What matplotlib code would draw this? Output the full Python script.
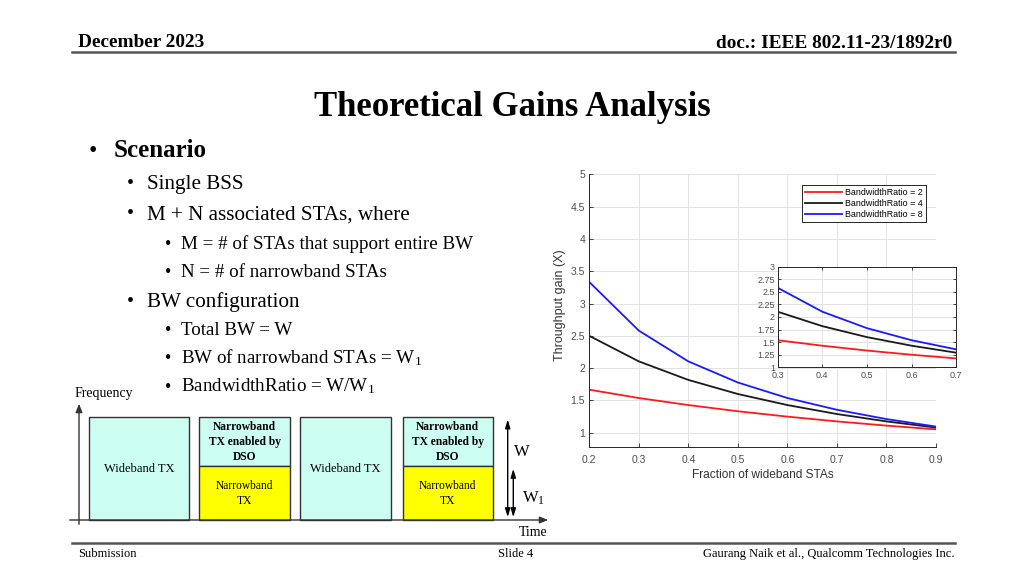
import matplotlib
matplotlib.use("Agg")
import matplotlib.pyplot as plt
from matplotlib.patches import Rectangle
from matplotlib.ticker import FormatStrFormatter

# ---------------- data ----------------
fraction = [0.2, 0.3, 0.4, 0.5, 0.6, 0.7, 0.8, 0.9]
ratio2 = [1.667, 1.538, 1.429, 1.333, 1.250, 1.176, 1.111, 1.053]
ratio4 = [2.500, 2.105, 1.818, 1.600, 1.429, 1.290, 1.176, 1.081]
ratio8 = [3.333, 2.581, 2.105, 1.778, 1.538, 1.356, 1.212, 1.096]
series_labels = ["BandwidthRatio = 2", "BandwidthRatio = 4", "BandwidthRatio = 8"]
series_colors = ["#ff1a1a", "#1a1a1a", "#1a1aff"]
main_xticks = [0.2, 0.3, 0.4, 0.5, 0.6, 0.7, 0.8, 0.9]
main_yticks = [1, 1.5, 2, 2.5, 3, 3.5, 4, 4.5, 5]
inset_xticks = [0.3, 0.4, 0.5, 0.6, 0.7]
inset_yticks = [1, 1.25, 1.5, 1.75, 2, 2.25, 2.5, 2.75, 3]

bullets = [
    (0, "Scenario"),
    (1, "Single BSS"),
    (1, "M + N associated STAs, where"),
    (2, "M = # of STAs that support entire BW"),
    (2, "N = # of narrowband STAs"),
    (1, "BW configuration"),
    (2, "Total BW = W"),
    (2, "BW of narrowband STAs = W$_1$"),
    (2, "BandwidthRatio = W/W$_1$"),
]

plt.rcParams['font.family'] = ['Liberation Serif', 'DejaVu Serif']
plt.rcParams['mathtext.fontset'] = 'custom'
plt.rcParams['mathtext.rm'] = 'Liberation Serif'
plt.rcParams['mathtext.it'] = 'Liberation Serif:italic'
plt.rcParams['mathtext.bf'] = 'Liberation Serif:bold'

W, H = 1024, 576
fig = plt.figure(figsize=(W / 100, H / 100), dpi=100)
fig.patch.set_facecolor("white")

# overlay in pixel coordinates
ov = fig.add_axes([0, 0, 1, 1])
ov.set_xlim(0, W)
ov.set_ylim(H, 0)
ov.axis("off")

# header
ov.text(78, 47, "December 2023", fontsize=13.9, fontweight="bold", ha="left", va="baseline")
ov.text(952, 48.5, "doc.: IEEE 802.11-23/1892r0", fontsize=13.9, fontweight="bold", ha="right", va="baseline")
ov.plot([72, 955], [52, 52], color="#555555", lw=1.8)

# title
ov.text(512, 116, "Theoretical Gains Analysis", fontsize=25, fontweight="bold", ha="center", va="baseline")

# bullets
baselines = [156.7, 189.3, 219.3, 249, 276.7, 306.7, 335, 363.3, 391.7]
bullet_x = {0: 89, 1: 126.5, 2: 165}
text_x = {0: 113.3, 1: 147.3, 2: 180.7}
sizes = {0: 18, 1: 15.2, 2: 13.7}
for (lvl, txt), yb in zip(bullets, baselines):
    ov.text(bullet_x[lvl], yb, "\u2022", fontsize=sizes[lvl] - 1, ha="left", va="baseline")
    ov.text(text_x[lvl], yb, txt, fontsize=sizes[lvl], ha="left", va="baseline",
            fontweight="bold" if lvl == 0 else "normal")

# footer
ov.plot([72, 955], [543, 543], color="#555555", lw=1.8)
ov.text(78, 557, "Submission", fontsize=9, ha="left", va="baseline")
ov.text(516, 557, "Slide 4", fontsize=9, ha="center", va="baseline")
ov.text(955, 557, "Gaurang Naik et al., Qualcomm Technologies Inc.", fontsize=9, ha="right", va="baseline")

# diagram
cyan = "#ccfff2"
yellow = "#ffff00"
edge = "#333333"
y_top, y_mid, y_bot = 416.7, 466, 520
boxes_wide = [(89.3, 189.3), (300, 390.7)]
boxes_narrow = [(199.3, 290), (402.7, 492.7)]
for x0, x1 in boxes_wide:
    ov.add_patch(Rectangle((x0, y_top), x1 - x0, y_bot - y_top, facecolor=cyan, edgecolor=edge, lw=1))
    ov.text((x0 + x1) / 2, 469, "Wideband TX", fontsize=9, ha="center", va="center")
for x0, x1 in boxes_narrow:
    ov.add_patch(Rectangle((x0, y_top), x1 - x0, y_mid - y_top, facecolor=cyan, edgecolor=edge, lw=1))
    ov.add_patch(Rectangle((x0, y_mid), x1 - x0, y_bot - y_mid, facecolor=yellow, edgecolor=edge, lw=1))
    ov.text((x0 + x1) / 2, 442, "Narrowband\nTX enabled by\nDSO", fontsize=8.3, fontweight="bold",
            ha="center", va="center", linespacing=1.3)
    ov.text((x0 + x1) / 2, 493.5, "Narrowband\nTX", fontsize=8.3, ha="center", va="center", linespacing=1.35)

# axes arrows
ov.annotate("", xy=(79, 401), xytext=(79, 527),
            arrowprops=dict(arrowstyle="-|>,head_length=0.5,head_width=0.2", color="#333333", lw=1))
ov.annotate("", xy=(551, 520), xytext=(67, 520),
            arrowprops=dict(arrowstyle="-|>,head_length=0.5,head_width=0.2", color="#333333", lw=1))
ov.annotate("", xy=(507.7, 416.7), xytext=(507.7, 520),
            arrowprops=dict(arrowstyle="<|-|>,head_length=0.5,head_width=0.15", color="black", lw=1))
ov.annotate("", xy=(513.3, 466), xytext=(513.3, 520),
            arrowprops=dict(arrowstyle="<|-|>,head_length=0.5,head_width=0.15", color="black", lw=1))
ov.text(75, 393, "Frequency", fontsize=10, ha="left", va="center")
ov.text(533, 532, "Time", fontsize=10, ha="center", va="center")
ov.text(514, 452, "W", fontsize=12, ha="left", va="center")
ov.text(522, 498, "W$_1$", fontsize=12, ha="left", va="center")

# ---------------- main chart ----------------
sans = "Liberation Sans"
tick_gray = "#4d4d4d"


def px_axes(left, top, right, bottom):
    return [left / W, 1 - bottom / H, (right - left) / W, (bottom - top) / H]


ax = fig.add_axes(px_axes(589.3, 174.3, 936, 447))
for ys, lab, col in zip([ratio2, ratio4, ratio8], series_labels, series_colors):
    ax.plot(fraction, ys, color=col, lw=1.3, label=lab)
ax.set_xlim(0.2, 0.9)
ax.set_ylim(0.78, 5)
ax.set_xticks(main_xticks)
ax.set_yticks(main_yticks)
ax.yaxis.set_major_formatter(FormatStrFormatter("%g"))
ax.xaxis.set_major_formatter(FormatStrFormatter("%g"))
ax.grid(True, color="#e3e3e3", lw=0.7)
ax.set_axisbelow(True)
ax.spines["top"].set_visible(False)
ax.spines["right"].set_visible(False)
for s in ["left", "bottom"]:
    ax.spines[s].set_color("#262626")
    ax.spines[s].set_linewidth(0.7)
ax.tick_params(direction="in", length=3, width=0.6, colors="#262626", labelcolor=tick_gray,
               labelsize=7.5)
ax.tick_params(axis="x", pad=6)
ax.tick_params(axis="y", pad=3)
for lbl in ax.get_xticklabels() + ax.get_yticklabels():
    lbl.set_family(sans)
ax.set_xlabel("Fraction of wideband STAs", fontsize=8.6, family=sans, color="#333333")
ax.set_ylabel("Throughput gain (X)", fontsize=9, family=sans, color="#333333")
ax.xaxis.set_label_coords(0.5, -0.08)
ax.yaxis.set_label_coords(-0.067, 0.52)
leg = ax.legend(loc="upper right", bbox_to_anchor=(0.97, 0.96), prop={"family": sans, "size": 6.4},
                frameon=True, fancybox=False, framealpha=1, edgecolor="#262626",
                handlelength=4.2, handletextpad=0.3, borderpad=0.35, labelspacing=0.2,
                borderaxespad=0)
leg.get_frame().set_linewidth(0.7)

# ---------------- inset ----------------
ins = fig.add_axes(px_axes(777.7, 266.7, 956.3, 367.3))
for ys, col in zip([ratio2, ratio4, ratio8], series_colors):
    ins.plot(fraction, ys, color=col, lw=1.3)
ins.set_xlim(0.3, 0.7)
ins.set_ylim(1, 3)
ins.set_xticks(inset_xticks)
ins.set_yticks(inset_yticks)
ins.yaxis.set_major_formatter(FormatStrFormatter("%g"))
ins.xaxis.set_major_formatter(FormatStrFormatter("%g"))
ins.grid(True, color="#e3e3e3", lw=0.7)
ins.set_axisbelow(True)
for s in ins.spines.values():
    s.set_color("#262626")
    s.set_linewidth(0.7)
ins.tick_params(direction="in", length=2.5, width=0.6, colors="#262626", labelcolor=tick_gray,
                labelsize=6.5, top=True, right=True)
ins.tick_params(axis="x", pad=3)
ins.tick_params(axis="y", pad=2)
for lbl in ins.get_xticklabels() + ins.get_yticklabels():
    lbl.set_family(sans)

fig.savefig("out.png", dpi=100, facecolor="white")
